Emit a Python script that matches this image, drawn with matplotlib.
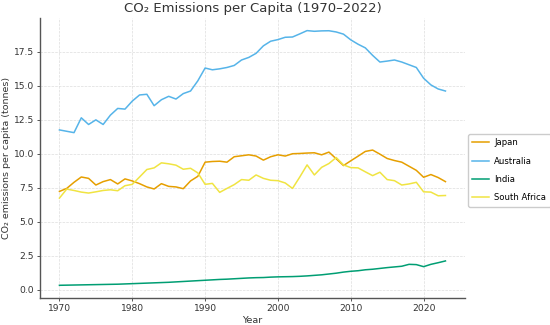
import matplotlib
matplotlib.use("Agg")
import matplotlib.pyplot as plt
import numpy as np

years = np.arange(1970, 2024)

japan = [7.23, 7.45, 7.90, 8.29, 8.19, 7.70, 7.95, 8.10, 7.78, 8.15,
         8.00, 7.80, 7.56, 7.41, 7.80, 7.60, 7.56, 7.43, 8.00, 8.34,
         9.38, 9.43, 9.45, 9.38, 9.78, 9.85, 9.92, 9.83, 9.53, 9.78,
         9.92, 9.83, 10.00, 10.02, 10.05, 10.07, 9.92, 10.12, 9.63, 9.13,
         9.48, 9.82, 10.17, 10.27, 9.97, 9.65, 9.50, 9.38, 9.08, 8.78,
         8.27, 8.47, 8.25, 7.95]

australia = [11.75, 11.65, 11.55, 12.64, 12.15, 12.49, 12.15, 12.84, 13.33, 13.28,
             13.87, 14.32, 14.37, 13.53, 13.97, 14.22, 14.02, 14.42, 14.61, 15.36,
             16.30, 16.17, 16.24, 16.34, 16.49, 16.89, 17.08, 17.38, 17.93, 18.27,
             18.39, 18.56, 18.58, 18.81, 19.05, 19.00, 19.03, 19.04, 18.95, 18.79,
             18.37, 18.05, 17.78, 17.23, 16.74, 16.81, 16.89, 16.74, 16.54, 16.34,
             15.55, 15.06, 14.76, 14.61]

india = [0.33, 0.34, 0.35, 0.36, 0.37, 0.38, 0.39, 0.40, 0.41, 0.43,
         0.45, 0.47, 0.49, 0.51, 0.53, 0.55, 0.58, 0.61, 0.64, 0.67,
         0.70, 0.73, 0.76, 0.78, 0.81, 0.84, 0.87, 0.89, 0.90, 0.93,
         0.95, 0.96, 0.97, 0.99, 1.02, 1.06, 1.10, 1.16, 1.22, 1.30,
         1.36, 1.40, 1.47, 1.51, 1.57, 1.63, 1.68, 1.73, 1.87, 1.85,
         1.70, 1.87, 1.99, 2.12]

south_africa = [6.74, 7.40, 7.30, 7.18, 7.11, 7.20, 7.30, 7.35, 7.28, 7.65,
                7.75, 8.29, 8.84, 8.96, 9.33, 9.26, 9.16, 8.86, 8.93, 8.59,
                7.75, 7.82, 7.16, 7.45, 7.73, 8.10, 8.05, 8.44, 8.19, 8.05,
                8.02, 7.85, 7.45, 8.29, 9.18, 8.44, 9.00, 9.28, 9.72, 9.18,
                8.98, 8.96, 8.67, 8.39, 8.64, 8.10, 8.02, 7.70, 7.78, 7.90,
                7.20, 7.18, 6.91, 6.93]

series = [("Japan", japan, "#E69F00"),
          ("Australia", australia, "#56B4E9"),
          ("India", india, "#009E73"),
          ("South Africa", south_africa, "#F0E442")]

plt.rcParams.update({
    "font.family": "DejaVu Sans",
    "axes.edgecolor": "#555555",
    "xtick.color": "#555555",
    "ytick.color": "#555555",
    "xtick.labelcolor": "#333333",
    "ytick.labelcolor": "#333333",
})

fig = plt.figure(figsize=(5.5, 3.25), dpi=100)
ax = fig.add_axes([0.073, 0.083, 0.772, 0.862])

for name, vals, color in series:
    ax.plot(years, vals, color=color, linewidth=1.1, label=name)

ax.spines["top"].set_visible(False)
ax.spines["right"].set_visible(False)
ax.spines["left"].set_linewidth(1.0)
ax.spines["bottom"].set_linewidth(1.0)
ax.grid(True, color="#dddddd", linestyle="--", linewidth=0.5)
ax.tick_params(labelsize=6.6, length=2.5, width=0.7, pad=2)

ax.set_title("CO₂ Emissions per Capita (1970–2022)", fontsize=9.5, color="#333333", pad=4)
ax.set_xlabel("Year", fontsize=6.8, color="#333333", labelpad=2)
ax.set_ylabel("CO₂ emissions per capita (tonnes)", fontsize=6.8, color="#333333", labelpad=1.5)

ax.legend(loc="upper left", bbox_to_anchor=(1.008, 0.585), borderaxespad=0,
          fontsize=6.1, frameon=True, edgecolor="#cccccc", framealpha=1,
          handlelength=2.0, handletextpad=0.6, labelspacing=1.1, borderpad=0.5)

fig.savefig("out.png", dpi=100)
